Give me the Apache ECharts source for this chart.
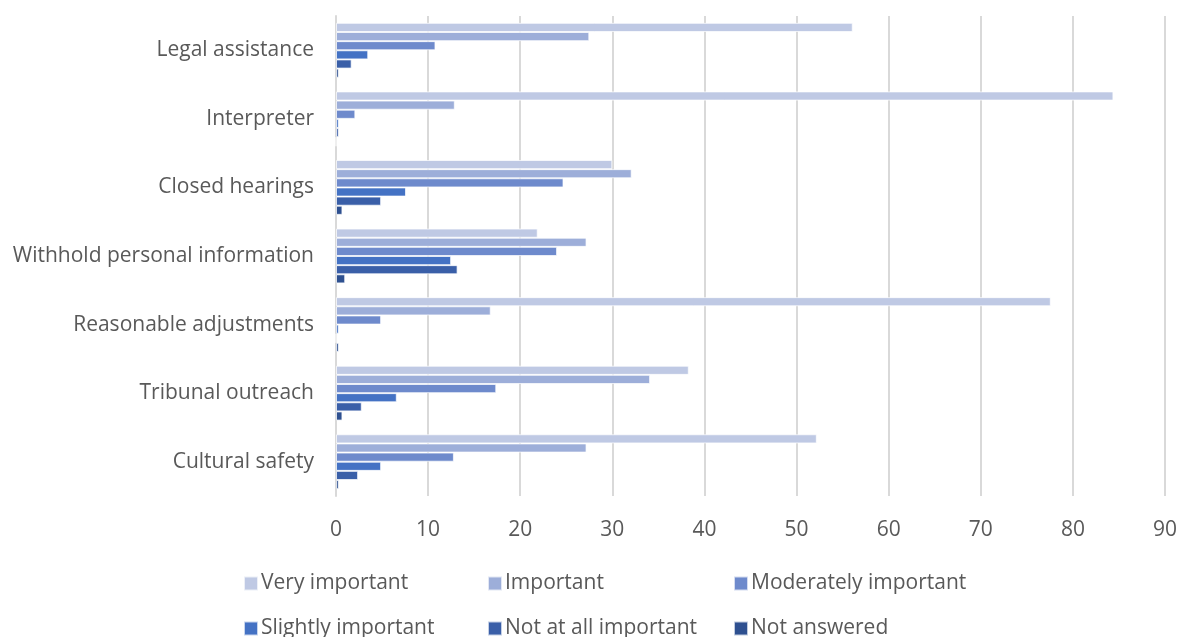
<!DOCTYPE html>
<html>
<head>
<meta charset="utf-8">
<script src="https://cdn.jsdelivr.net/npm/echarts@6/dist/echarts.min.js"></script>
<style>
  html, body { margin: 0; padding: 0; background: #fff; }
  #chart { width: 1182px; height: 637px; }
</style>
</head>
<body>
<div id="chart"></div>
<script>
// Survey categories, top to bottom
const categories = [
  'Legal assistance',
  'Interpreter',
  'Closed hearings',
  'Withhold personal information',
  'Reasonable adjustments',
  'Tribunal outreach',
  'Cultural safety'
];

const seriesNames = [
  'Very important',
  'Important',
  'Moderately important',
  'Slightly important',
  'Not at all important',
  'Not answered'
];

// Percentages per category (same order as categories)
const veryImportant      = [56.1, 84.4, 30.0, 21.9, 77.6, 38.3, 52.2];
const important          = [27.5, 12.9, 32.1, 27.2, 16.8, 34.1, 27.2];
const moderatelyImportant= [10.8,  2.1, 24.7, 24.0,  4.9, 17.4, 12.8];
const slightlyImportant  = [ 3.5,  0.3,  7.6, 12.5,  0.3,  6.6,  4.9];
const notAtAllImportant  = [ 1.7,  0.3,  4.9, 13.2,  0.0,  2.8,  2.4];
const notAnswered        = [ 0.3,  0.0,  0.7,  1.0,  0.3,  0.7,  0.3];

const xTicks = [0, 10, 20, 30, 40, 50, 60, 70, 80, 90];

const values = [veryImportant, important, moderatelyImportant, slightlyImportant, notAtAllImportant, notAnswered];
const colors = ['#BFC9E4', '#9DAED9', '#6E8ACC', '#4472C4', '#3A5FA8', '#2E5090'];

const font = '"Open Sans", "Noto Sans", "Liberation Sans", sans-serif';
const textColor = '#595959';
const fontSize = 21;

const chart = echarts.init(document.getElementById('chart'), null, { renderer: 'canvas' });

const series = seriesNames.map((name, i) => ({
  name: name,
  type: 'bar',
  data: values[i],
  barGap: '0%',
  barCategoryGap: '20%',
  itemStyle: { color: colors[i], borderColor: 'rgba(255,255,255,0.7)', borderWidth: 1 },
  emphasis: { disabled: true }
}));

// Legend laid out as a 3-column grid, one legend component per entry
const legendCols = [243, 487, 733];
const legendRows = [573, 618];
const legends = seriesNames.map((name, i) => ({
  left: legendCols[i % 3],
  top: legendRows[Math.floor(i / 3)],
  data: [name],
  itemWidth: 14,
  itemHeight: 14,
  itemGap: 0,
  icon: 'rect',
  padding: 0,
  selectedMode: false,
  textStyle: { fontFamily: font, fontSize: fontSize, color: textColor, padding: [0, 0, 0, -2] }
}));

chart.setOption({
  animation: false,
  color: colors,
  grid: { left: 336, right: 17, top: 16, bottom: 141, containLabel: false },
  xAxis: {
    type: 'value',
    min: xTicks[0],
    max: xTicks[xTicks.length - 1],
    interval: 10,
    axisLine: { show: false },
    axisTick: { show: false },
    splitLine: { lineStyle: { color: '#D9D9D9', width: 2 } },
    axisLabel: { fontFamily: font, fontSize: fontSize, color: textColor, margin: 24 }
  },
  yAxis: {
    type: 'category',
    data: categories,
    inverse: true,
    axisLine: { show: true, lineStyle: { color: '#D9D9D9', width: 2 } },
    axisTick: { show: false },
    axisLabel: { fontFamily: font, fontSize: fontSize, color: textColor, margin: 22, padding: [4, 0, 0, 0] }
  },
  legend: legends,
  series: series
});
</script>
</body>
</html>
